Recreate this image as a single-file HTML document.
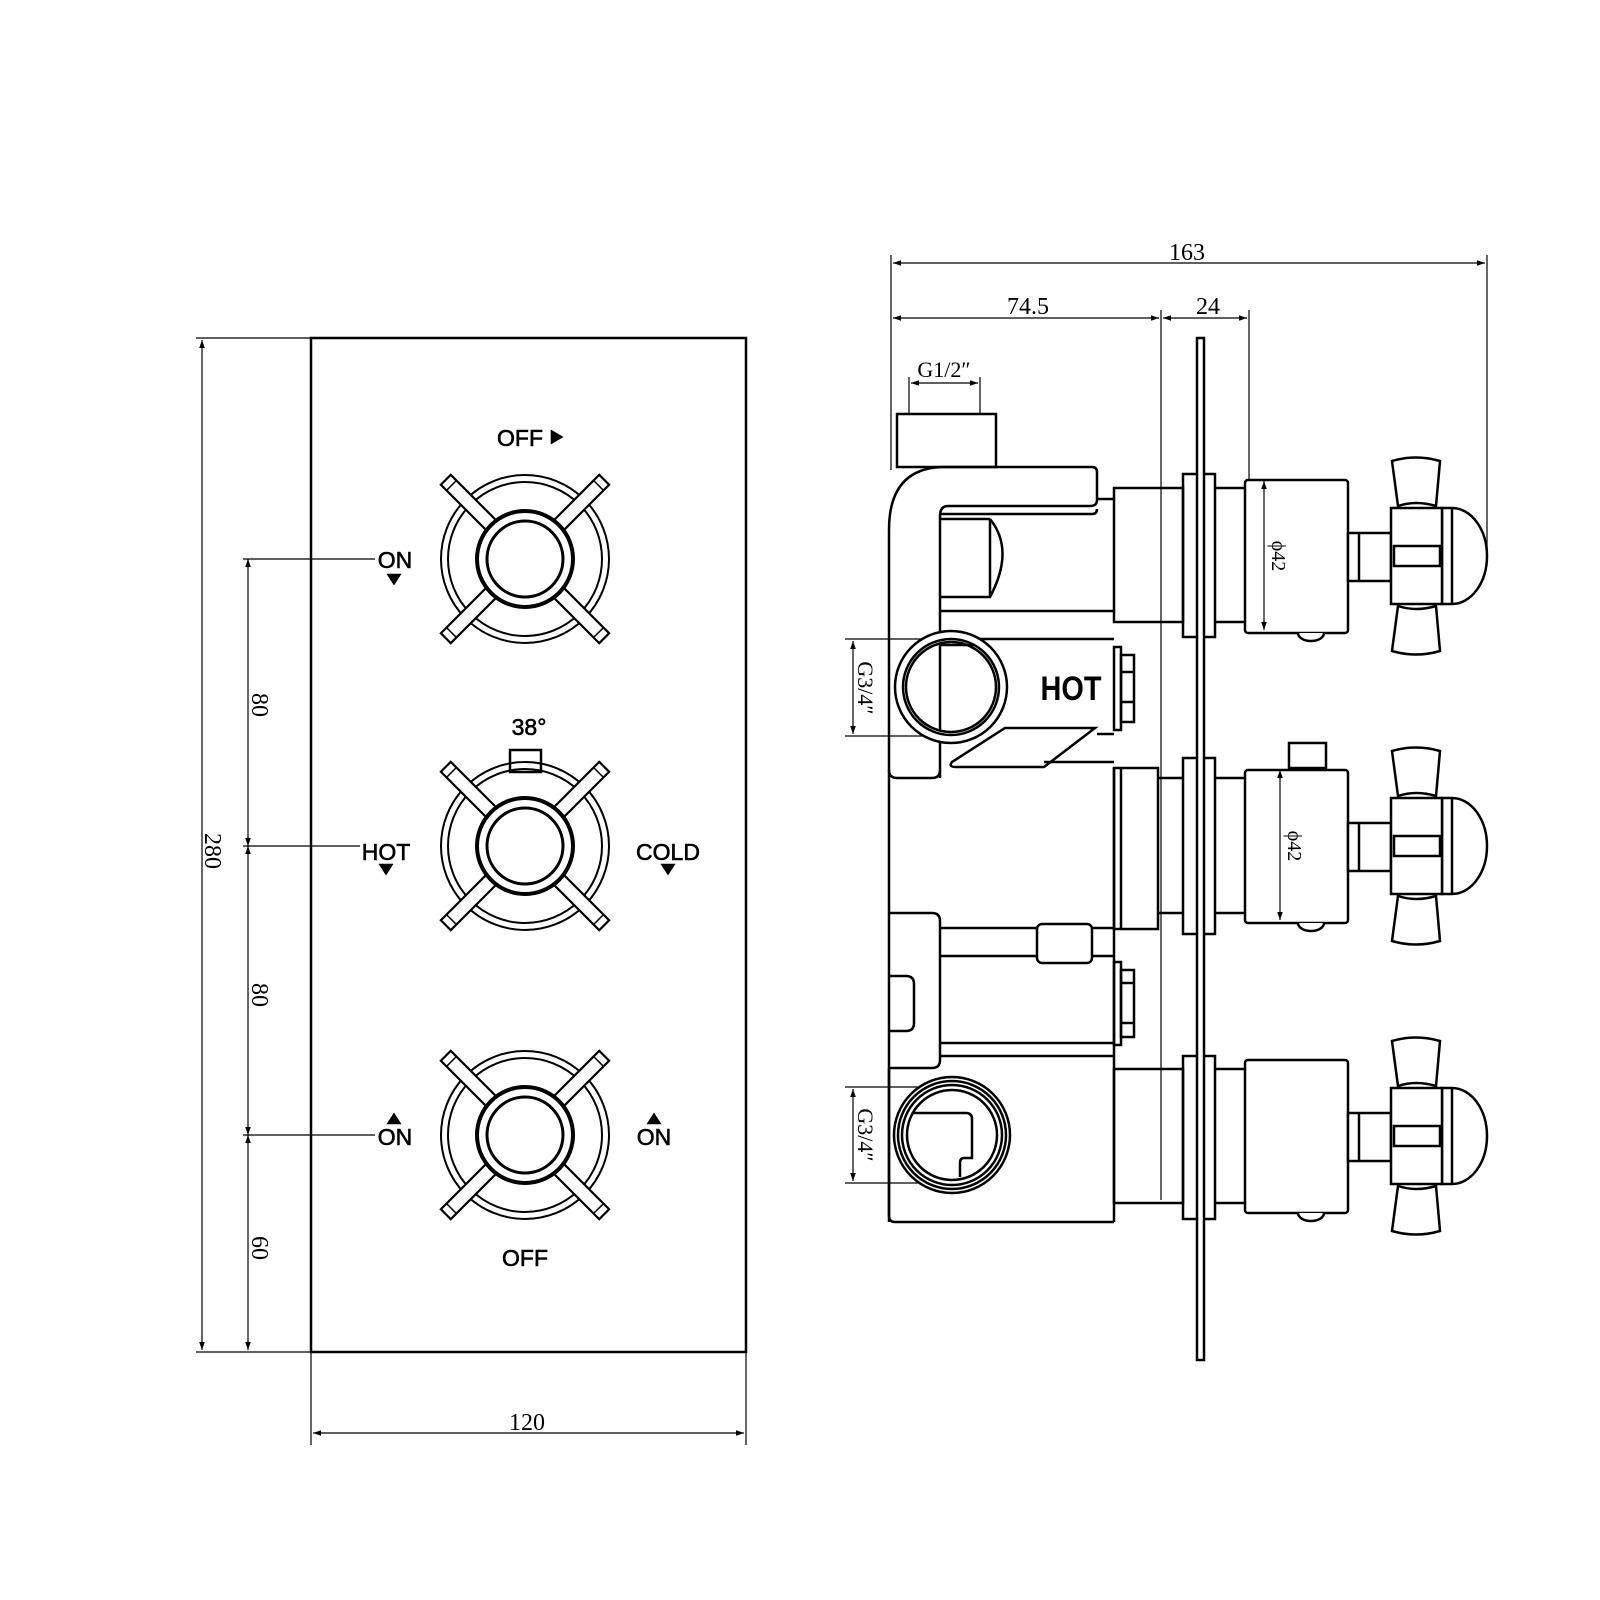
<!DOCTYPE html>
<html><head><meta charset="utf-8"><style>html,body{margin:0;padding:0;background:#fff}svg{display:block}</style></head>
<body>
<svg width="1600" height="1600" viewBox="0 0 1600 1600" xmlns="http://www.w3.org/2000/svg">
<defs>
<marker id="a" viewBox="0 0 10 10" refX="10" refY="5" markerWidth="14" markerHeight="8" markerUnits="userSpaceOnUse" orient="auto-start-reverse"><path d="M0,1.5 L10,5 L0,8.5 Z" fill="#000"/></marker>
<g id="arm"><rect x="-7" y="-112" width="14" height="64" fill="#fff" stroke="#000" stroke-width="2.2"/><line x1="-7" y1="-104" x2="7" y2="-104" stroke="#000" stroke-width="1.5"/></g>
<g id="knob">
  <circle r="84" fill="none" stroke="#000" stroke-width="2"/>
  <circle r="77" fill="none" stroke="#000" stroke-width="2"/>
  <use href="#arm" transform="rotate(45)"/>
  <use href="#arm" transform="rotate(135)"/>
  <use href="#arm" transform="rotate(225)"/>
  <use href="#arm" transform="rotate(315)"/>
  <circle r="48" fill="#fff" stroke="#000" stroke-width="4"/>
  <circle r="38" fill="none" stroke="#000" stroke-width="3"/>
</g>
<g id="handle" fill="#fff" stroke="#000" stroke-width="2.5">
  <rect x="1245" y="-76" width="103" height="153" rx="3"/>
  <path d="M1298,77 a13,8 0 0 0 26,0"/>
  <rect x="1348" y="-23" width="43" height="48"/>
  <line x1="1359" y1="-23" x2="1359" y2="25"/>
  <path d="M1442,-48 h10 a35,48 0 0 1 0,96 h-10 Z"/>
  <line x1="1452" y1="-48" x2="1452" y2="48"/>
  <rect x="1391" y="-48" width="51" height="96"/>
  <rect x="1394" y="-10" width="46" height="20"/>
  <path d="M1392,-95 Q1416,-102 1440,-95 L1436,-50 Q1416,-56 1398,-50 Z"/>
  <path d="M1392,95 Q1416,102 1440,95 L1436,50 Q1416,56 1398,50 Z"/>
</g>
</defs>

<g fill="none" stroke="#000">
<rect x="311" y="338" width="435" height="1014" stroke-width="2.5"/>
<line x1="196" y1="338" x2="311" y2="338" stroke-width="1.2"/>
<line x1="196" y1="1352" x2="311" y2="1352" stroke-width="1.2"/>
<line x1="202" y1="340" x2="202" y2="1350" stroke-width="1.2" marker-start="url(#a)" marker-end="url(#a)"/>
<line x1="248" y1="559" x2="248" y2="846" stroke-width="1.2" marker-start="url(#a)" marker-end="url(#a)"/>
<line x1="248" y1="846" x2="248" y2="1135" stroke-width="1.2" marker-start="url(#a)" marker-end="url(#a)"/>
<line x1="248" y1="1135" x2="248" y2="1350" stroke-width="1.2" marker-start="url(#a)" marker-end="url(#a)"/>
<line x1="243" y1="559" x2="375" y2="559" stroke-width="1.2"/>
<line x1="243" y1="846" x2="360" y2="846" stroke-width="1.2"/>
<line x1="243" y1="1135" x2="375" y2="1135" stroke-width="1.2"/>
<line x1="311" y1="1352" x2="311" y2="1445" stroke-width="1.2"/>
<line x1="746" y1="1352" x2="746" y2="1445" stroke-width="1.2"/>
<line x1="313" y1="1433" x2="744" y2="1433" stroke-width="1.2" marker-start="url(#a)" marker-end="url(#a)"/>
<rect x="510" y="750" width="31" height="22" stroke-width="2.5" fill="#fff"/>
</g>
<use href="#knob" x="525" y="559"/>
<use href="#knob" x="525" y="846"/>
<use href="#knob" x="525" y="1135"/>

<g font-family="Liberation Sans, sans-serif" font-size="23" text-anchor="middle" fill="#000" stroke="#000" stroke-width="0.6">
<text x="520" y="446">OFF</text><path d="M551,430 l12,7 l-12,7 Z"/>
<text x="395" y="568">ON</text><path d="M387,574 h14 l-7,11 Z"/>
<text x="529" y="735">38°</text>
<text x="386" y="860">HOT</text><path d="M379,864 h14 l-7,11 Z"/>
<text x="668" y="860">COLD</text><path d="M661,864 h14 l-7,11 Z"/>
<path d="M387,1124 h14 l-7,-11 Z"/><text x="395" y="1145">ON</text>
<path d="M647,1124 h14 l-7,-11 Z"/><text x="654" y="1145">ON</text>
<text x="525" y="1266">OFF</text>
</g>
<g font-family="Liberation Serif, serif" font-size="24" text-anchor="middle" fill="#000">
<text transform="translate(205,851) rotate(90)">280</text>
<text transform="translate(252,705) rotate(90)">80</text>
<text transform="translate(252,995) rotate(90)">80</text>
<text transform="translate(252,1248) rotate(90)">60</text>
<text x="527" y="1430">120</text>
<text x="1187" y="260">163</text>
<text x="1028" y="314">74.5</text>
<text x="1208" y="314">24</text>
<text x="944" y="377" font-size="22">G1/2″</text>
<text transform="translate(858,688) rotate(90)" font-size="22">G3/4″</text>
<text transform="translate(858,1135) rotate(90)" font-size="22">G3/4″</text>
</g>

<g fill="none" stroke="#000" stroke-width="1.2">
<line x1="891" y1="255" x2="891" y2="470"/>
<line x1="1487" y1="255" x2="1487" y2="556"/>
<line x1="893" y1="263" x2="1485" y2="263" marker-start="url(#a)" marker-end="url(#a)"/>
<line x1="1161" y1="310" x2="1161" y2="1200"/>
<line x1="1249" y1="310" x2="1249" y2="480"/>
<line x1="893" y1="318" x2="1159" y2="318" marker-start="url(#a)" marker-end="url(#a)"/>
<line x1="1163" y1="318" x2="1247" y2="318" marker-start="url(#a)" marker-end="url(#a)"/>
<line x1="909" y1="377" x2="909" y2="414"/>
<line x1="980" y1="377" x2="980" y2="414"/>
<line x1="911" y1="383" x2="978" y2="383" marker-start="url(#a)" marker-end="url(#a)"/>
<line x1="845" y1="639" x2="950" y2="639"/>
<line x1="845" y1="736" x2="950" y2="736"/>
<line x1="853" y1="641" x2="853" y2="734" marker-start="url(#a)" marker-end="url(#a)"/>
<line x1="845" y1="1087" x2="950" y2="1087"/>
<line x1="845" y1="1183" x2="950" y2="1183"/>
<line x1="853" y1="1089" x2="853" y2="1181" marker-start="url(#a)" marker-end="url(#a)"/>
</g>

<g fill="none" stroke="#000" stroke-width="2.5">
<rect x="897" y="414" width="99" height="53"/>
<path d="M889,1222 V530 Q889,467 945,467 H1092 Q1097,467 1097,472 V500 Q1097,506 1090,506 H948 Q940,506 940,516 V778"/>
<path d="M940,514 H1092 Q1097,514 1097,509"/>
<line x1="1097" y1="499" x2="1114" y2="499"/>
<path d="M889,770 Q889,778 897,778 H932 Q940,778 940,770"/>
<path d="M940,519 H990 M990,519 Q1015,550 990,597 H940"/>
<line x1="990" y1="519" x2="990" y2="597"/>
<line x1="940" y1="611" x2="1114" y2="611"/>
<line x1="940" y1="639" x2="1114" y2="639"/>
<line x1="1044" y1="762" x2="1114" y2="762"/>
<line x1="1097" y1="734" x2="1114" y2="734"/>
<path d="M1005,728 H1095 L1044,767 H956 Q948,767 952,762 Z"/>
<circle cx="951" cy="687" r="56" fill="#fff"/>
<circle cx="951" cy="687" r="48"/>
<circle cx="951" cy="687" r="45"/>
<path d="M940,643 V731"/>
<line x1="940" y1="645" x2="975" y2="645"/>
<rect x="1114" y="647" width="7" height="83"/>
<rect x="1121" y="655" width="13" height="67"/>
<line x1="1121" y1="672" x2="1134" y2="672"/><line x1="1121" y1="702" x2="1134" y2="702"/>
<rect x="1114" y="488" width="69" height="134"/>
<rect x="1183" y="474" width="32" height="163"/>
<line x1="1215" y1="488" x2="1245" y2="488"/><line x1="1215" y1="622" x2="1245" y2="622"/>
<rect x="1114" y="768" width="44" height="161"/>
<line x1="1121" y1="768" x2="1121" y2="929"/>
<line x1="1158" y1="778" x2="1183" y2="778"/><line x1="1158" y1="913" x2="1183" y2="913"/>
<rect x="1183" y="758" width="32" height="176"/>
<line x1="1215" y1="778" x2="1245" y2="778"/><line x1="1215" y1="913" x2="1245" y2="913"/>
<rect x="1289" y="743" width="37" height="25"/>
<line x1="1114" y1="768" x2="1114" y2="1222"/>
<path d="M889,913 H932 Q940,913 940,921 V1060 Q940,1068 932,1068 H889"/>
<path d="M889,976 H906 Q914,976 914,984 V1023 Q914,1031 906,1031 H889"/>
<line x1="940" y1="928" x2="1037" y2="928"/><line x1="940" y1="956" x2="1037" y2="956"/>
<rect x="1037" y="924" width="55" height="39" rx="5"/>
<line x1="1092" y1="928" x2="1114" y2="928"/><line x1="1092" y1="956" x2="1114" y2="956"/>
<line x1="940" y1="1043" x2="1114" y2="1043"/>
<line x1="940" y1="1056" x2="1114" y2="1056"/>
<rect x="1114" y="962" width="7" height="83"/>
<rect x="1121" y="970" width="13" height="67"/>
<line x1="1121" y1="983" x2="1134" y2="983"/><line x1="1121" y1="1023" x2="1134" y2="1023"/>
<path d="M889,1068 V1216 Q889,1222 895,1222 H1114"/>
<circle cx="952" cy="1135" r="58" fill="#fff"/>
<circle cx="952" cy="1135" r="54"/>
<circle cx="952" cy="1135" r="50"/>
<circle cx="952" cy="1135" r="45"/>
<path d="M913,1113 H966 Q972,1113 972,1119 V1158 H964 Q960,1158 960,1163 V1177" />
<rect x="1114" y="1069" width="69" height="134"/>
<rect x="1183" y="1056" width="32" height="163"/>
<line x1="1215" y1="1069" x2="1245" y2="1069"/><line x1="1215" y1="1203" x2="1245" y2="1203"/>
</g>
<rect x="1197" y="338" width="7" height="1022" fill="#fff" stroke="#000" stroke-width="2.5"/>
<use href="#handle" y="556"/>
<use href="#handle" y="846"/>
<use href="#handle" y="1136"/>
<g fill="none" stroke="#000" stroke-width="1.2">
<line x1="1264" y1="481" x2="1264" y2="630" marker-start="url(#a)" marker-end="url(#a)"/>
<line x1="1280" y1="770" x2="1280" y2="920" marker-start="url(#a)" marker-end="url(#a)"/>
</g>
<g font-family="Liberation Serif, serif" font-size="20" text-anchor="middle" fill="#000">
<text transform="translate(1272,556) rotate(90)">ϕ42</text>
<text transform="translate(1288,846) rotate(90)">ϕ42</text>
</g>
<text x="1071" y="700" font-family="Liberation Sans, sans-serif" font-weight="bold" font-size="34" text-anchor="middle" transform="translate(1071,0) scale(0.85,1) translate(-1071,0)">HOT</text>
</svg>
</body></html>
